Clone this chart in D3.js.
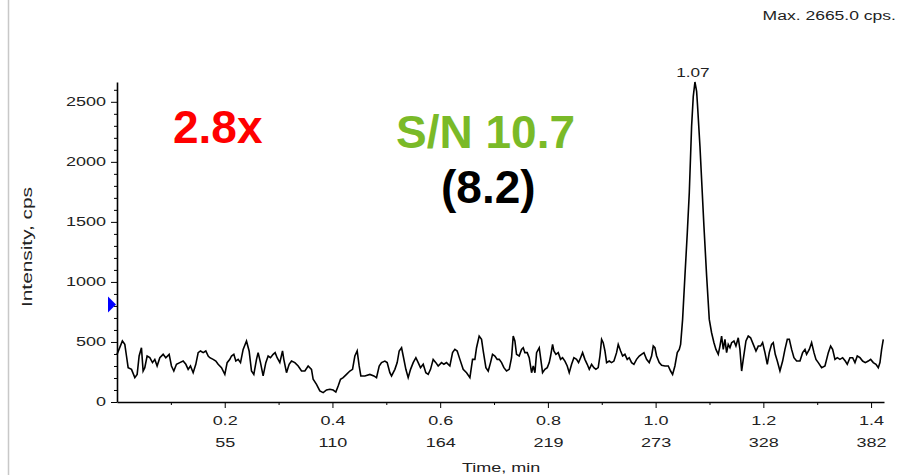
<!DOCTYPE html>
<html>
<head>
<meta charset="utf-8">
<script src="https://cdn.jsdelivr.net/npm/d3@7"></script>
<style>
  body { margin: 0; background: #fff; }
  svg { display: block; font-family: Arial, "Liberation Sans", sans-serif; }
  .axis path, .axis line { stroke: #000; }
  .axis text { font-size: 12px; fill: #222; font-family: Arial, "Liberation Sans", sans-serif; }
</style>
</head>
<body>
<svg id="chart" width="898" height="475"></svg>
<script>
// retention time (min) and intensity (cps)
var times = [
  0.000, 0.010, 0.0145, 0.0176, 0.0207, 0.0269, 0.0331, 0.0374, 0.0411, 0.0454,
  0.0485, 0.0516, 0.0559, 0.0609, 0.0659, 0.0702, 0.0745, 0.0795, 0.0857, 0.0906,
  0.0968, 0.1011, 0.1055, 0.1104, 0.1166, 0.1228, 0.1278, 0.1321, 0.1364, 0.1414,
  0.1463, 0.1507, 0.155, 0.160, 0.1649, 0.1693, 0.1723, 0.1785, 0.1835, 0.1878,
  0.194, 0.2002, 0.2045, 0.2095, 0.2126, 0.2169, 0.2206, 0.2249, 0.2293, 0.2342,
  0.2404, 0.2453, 0.2497, 0.254, 0.259, 0.262, 0.2664, 0.2713, 0.2763, 0.2806,
  0.285, 0.2899, 0.2936, 0.2973, 0.3023, 0.3073, 0.3097, 0.3147, 0.3196, 0.324,
  0.3302, 0.3364, 0.3426, 0.3488, 0.3549,
  0.3611, 0.3642, 0.3704, 0.3766, 0.3828, 0.389, 0.3952, 0.4013, 0.4063, 0.4106,
  0.415, 0.4199, 0.4261, 0.4323, 0.4373, 0.4416, 0.4459, 0.4496, 0.4527, 0.4602,
  0.4695, 0.4769, 0.4818, 0.4868, 0.4911, 0.4973, 0.5016, 0.5066, 0.5097, 0.5159,
  0.5202, 0.5239, 0.5283, 0.5314, 0.5363, 0.5406, 0.545, 0.5499, 0.5549, 0.5592,
  0.5635, 0.5685, 0.5734, 0.5778, 0.5821, 0.587, 0.592, 0.5963, 0.6025, 0.6069,
  0.6118, 0.618, 0.623, 0.6273, 0.6316, 0.6366, 0.6427, 0.649, 0.6552, 0.6601,
  0.6644, 0.6675, 0.6724, 0.6768, 0.6799, 0.6849, 0.6892, 0.6935, 0.6972, 0.7016,
  0.7059,
  0.7096, 0.714, 0.7183, 0.7232, 0.7282, 0.7325, 0.7356, 0.7387, 0.7418, 0.7467,
  0.7511, 0.7542, 0.7573, 0.7616, 0.7653, 0.7697, 0.7728, 0.7759, 0.779, 0.7839,
  0.7864, 0.7901, 0.7944, 0.7988, 0.8025, 0.805, 0.8087, 0.8111, 0.8149, 0.8192,
  0.8235, 0.8272, 0.8316, 0.8359, 0.8396, 0.844, 0.8483, 0.8532, 0.8569, 0.8607,
  0.8644, 0.8687, 0.873, 0.8768, 0.8811, 0.8854, 0.8891, 0.8934, 0.8966, 0.8997,
  0.9027, 0.9059, 0.909, 0.9139, 0.9182, 0.9226, 0.9275, 0.9306, 0.935, 0.9387,
  0.943, 0.9473, 0.951, 0.9554, 0.9597, 0.9646, 0.9696, 0.9739, 0.9783, 0.9832,
  0.9881, 0.9925, 0.9956, 0.9987, 1.0018, 1.0067, 1.0111, 1.0173, 1.0235, 1.0278,
  1.0315,
  1.0358, 1.0402, 1.0439, 1.0464, 1.0501, 1.0544, 1.0588, 1.0625, 1.0668, 1.0699,
  1.073, 1.0761, 1.0779, 1.0823, 1.086, 1.0897, 1.0947, 1.0996, 1.1039, 1.1083,
  1.112, 1.1163, 1.1194, 1.1225, 1.1256, 1.1287, 1.1318, 1.1348, 1.138, 1.1411,
  1.1454, 1.1491, 1.1534, 1.1565, 1.1597, 1.1627, 1.1677, 1.172, 1.1763, 1.1813,
  1.1863, 1.1906, 1.1949, 1.1986, 1.203, 1.2073, 1.211, 1.2153, 1.2184, 1.2221,
  1.2259, 1.2308, 1.2358, 1.2401, 1.2445, 1.2482, 1.2525, 1.2568, 1.2618, 1.268,
  1.2729, 1.2773, 1.2803, 1.2853, 1.2896, 1.294, 1.2977, 1.302, 1.3082, 1.3144,
  1.3206, 1.3249, 1.3286, 1.333, 1.3373, 1.3422, 1.3472, 1.3521, 1.3558, 1.3608,
  1.3658, 1.3701, 1.3744, 1.3794, 1.3843, 1.3893, 1.3948, 1.3992, 1.4041, 1.4091,
  1.4134, 1.4165, 1.4196, 1.4227
];
var intensities = [
  397, 508, 480, 383, 286, 272, 203, 230, 383, 452,
  258, 286, 383, 369, 328, 355, 300, 369, 397, 369,
  397, 300, 258, 314, 328, 341, 314, 272, 300, 244,
  314, 411, 425, 411, 425, 383, 369, 355, 341, 314,
  286, 230, 328, 355, 383, 397, 341, 355, 328, 438,
  508, 425, 258, 230, 355, 411, 328, 217, 328, 383,
  369, 397, 411, 369, 328, 425, 355, 244, 314, 341,
  328, 300, 258, 258, 300,
  272, 189, 147, 92, 78, 100, 106, 100, 83, 133,
  189, 203, 230, 258, 272, 383, 425, 300, 217, 217,
  230, 217, 203, 300, 328, 341, 328, 244, 217, 272,
  328, 425, 452, 383, 272, 203, 272, 328, 369, 328,
  286, 314, 244, 230, 272, 355, 328, 300, 328, 314,
  328, 300, 411, 438, 425, 355, 272, 244, 203, 355,
  355, 452, 549, 522, 425, 286, 258, 328, 397, 383,
  355,
  355, 328, 286, 258, 272, 369, 549, 508, 397, 383,
  438, 452, 411, 411, 369, 244, 300, 244, 411, 452,
  369, 244, 272, 286, 328, 383, 480, 425, 397, 411,
  355, 369, 341, 300, 244, 314, 369, 355, 328, 369,
  411, 355, 314, 272, 314, 286, 272, 286, 383, 522,
  494, 425, 328, 341, 328, 341, 411, 480, 425, 383,
  397, 355, 369, 328, 314, 355, 383, 397, 411, 355,
  328, 383, 466, 452, 383, 328, 305, 300, 300, 258,
  230,
  300, 411, 438, 480, 688, 1049, 1409, 1742, 2296, 2546,
  2665, 2588, 2463, 2130, 1797, 1464, 1049, 688, 577, 494,
  438, 397, 466, 549, 438, 522, 411, 480, 452, 494,
  508, 466, 535, 438, 258, 355, 508, 549, 535, 480,
  425, 466, 466, 494, 411, 314, 411, 480, 494, 397,
  341, 258, 341, 438, 522, 522, 438, 369, 341, 341,
  411, 438, 397, 438, 494, 411, 355, 328, 286, 300,
  411, 466, 438, 355, 369, 355, 369, 341, 314, 369,
  369, 328, 383, 369, 341, 328, 341, 355, 328, 314,
  286, 328, 438, 522
];

var xTicks = [0.2, 0.4, 0.6, 0.8, 1.0, 1.2, 1.4];
var scanLabels = ["55", "110", "164", "219", "273", "328", "382"];
var xMinorTicks = [0.1, 0.3, 0.5, 0.7, 0.9, 1.1, 1.3];
var yTicks = [0, 500, 1000, 1500, 2000, 2500];
var yMinorTicks = d3.range(100, 2700, 100).filter(function (v) { return v % 500 !== 0; });
var maxIntensity = 2665;
var peakTime = 1.073;
var thresholdLevel = 813;

var svg = d3.select("#chart");

// the instrument font is drawn wide; stretch small labels sideways
function widen(sel, k) {
    sel.each(function () {
        var w = this.getComputedTextLength();
        d3.select(this)
            .attr("textLength", w * k)
            .attr("lengthAdjust", "spacingAndGlyphs");
    });
}

var x = d3.scaleLinear()
    .domain([0, 1.424])
    .range([117, 884]);

var y = d3.scaleLinear()
    .domain([0, maxIntensity])
    .range([402, 82]);

// left gray frame line
svg.append("line")
    .attr("x1", 8.5).attr("x2", 8.5)
    .attr("y1", 0).attr("y2", 475)
    .attr("stroke", "#c8c8c8")
    .attr("stroke-width", 1.5);

// minor ticks
svg.append("g")
    .attr("class", "axis")
    .attr("transform", "translate(117,0)")
    .call(d3.axisLeft(y).tickValues(yMinorTicks).tickSize(3).tickFormat(""))
    .call(function (g) { g.select(".domain").remove(); });

svg.append("g")
    .attr("class", "axis")
    .attr("transform", "translate(0,402)")
    .call(d3.axisBottom(x).tickValues(xMinorTicks).tickSize(3).tickFormat(""))
    .call(function (g) { g.select(".domain").remove(); });

// Y axis
var yAxis = svg.append("g")
    .attr("class", "axis")
    .attr("transform", "translate(117,0)")
    .call(d3.axisLeft(y).tickValues(yTicks).tickSize(6).tickSizeOuter(0).tickPadding(5)
        .tickFormat(d3.format("d")));
yAxis.select(".domain").attr("stroke-width", 1.6);
widen(yAxis.selectAll(".tick text"), 1.5);

// X axis
var xAxis = svg.append("g")
    .attr("class", "axis")
    .attr("transform", "translate(0,402)")
    .call(d3.axisBottom(x).tickValues(xTicks).tickSize(6).tickSizeOuter(0).tickPadding(8)
        .tickFormat(d3.format(".1f")));
xAxis.select(".domain").attr("stroke-width", 1.6);

xAxis.selectAll(".tick")
    .append("text")
    .attr("y", 45)
    .attr("fill", "#222")
    .attr("text-anchor", "middle")
    .text(function (d, i) { return scanLabels[i]; });
widen(xAxis.selectAll(".tick text"), 1.5);

// axis titles
svg.append("text")
    .attr("x", 462).attr("y", 472)
    .attr("font-size", "12px")
    .attr("fill", "#222")
    .text("Time, min")
    .call(widen, 1.5);

svg.append("text")
    .attr("transform", "translate(32,247) rotate(-90)")
    .attr("text-anchor", "middle")
    .attr("font-size", "15px")
    .attr("fill", "#222")
    .attr("textLength", 120)
    .attr("lengthAdjust", "spacingAndGlyphs")
    .text("Intensity, cps");

svg.append("text")
    .attr("x", 896).attr("y", 20)
    .attr("text-anchor", "end")
    .attr("font-size", "12px")
    .attr("fill", "#222")
    .text("Max. " + maxIntensity.toFixed(1) + " cps.")
    .call(widen, 1.46);

// threshold marker
var ty = y(thresholdLevel);
svg.append("path")
    .attr("d", "M108," + (ty - 8) + "L116," + ty + "L108," + (ty + 8) + "Z")
    .attr("fill", "#0000ff");

// trace
var pts = times.map(function (t, i) { return [t, intensities[i]]; });
svg.append("path")
    .datum(pts)
    .attr("fill", "none")
    .attr("stroke", "#000")
    .attr("stroke-width", 1.6)
    .attr("d", d3.line().x(function (d) { return x(d[0]); }).y(function (d) { return y(d[1]); }));

// peak label
svg.append("text")
    .attr("x", x(peakTime) - 2).attr("y", 77)
    .attr("text-anchor", "middle")
    .attr("font-size", "12px")
    .attr("fill", "#222")
    .text(peakTime.toFixed(2))
    .call(widen, 1.43);

// annotations
svg.append("text")
    .attr("x", 173).attr("y", 143)
    .attr("font-size", "46px").attr("font-weight", "bold")
    .attr("fill", "#ff0000")
    .text("2.8x");

svg.append("text")
    .attr("x", 396).attr("y", 148)
    .attr("font-size", "46px").attr("font-weight", "bold")
    .attr("fill", "#7aba28")
    .text("S/N 10.7");

svg.append("text")
    .attr("x", 441).attr("y", 203)
    .attr("font-size", "46px").attr("font-weight", "bold")
    .attr("fill", "#000")
    .text("(8.2)");
</script>
</body>
</html>
